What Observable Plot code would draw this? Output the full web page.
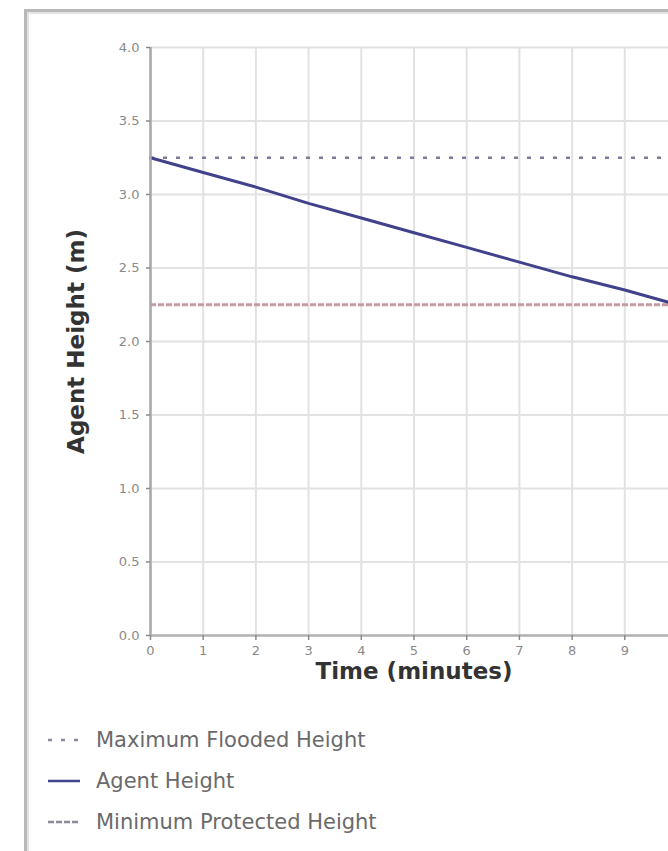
<!DOCTYPE html>
<html><head><meta charset="utf-8">
<script src="https://cdn.jsdelivr.net/npm/d3@7"></script>
<script src="https://cdn.jsdelivr.net/npm/@observablehq/plot@0.6"></script>
<style>
html,body{margin:0;padding:0;background:#fff;width:668px;height:851px;overflow:hidden;position:relative;font-family:"DejaVu Sans",sans-serif;}
#frame{position:absolute;left:24px;top:9px;width:700px;height:900px;border-left:3px solid #b9b9b9;border-top:3px solid #b9b9b9;}
#frame::after{content:"";position:absolute;left:0;top:0;right:0;bottom:0;border-left:2px solid #e4e4e4;border-top:2px solid #e4e4e4;}
#chart{position:absolute;left:0;top:0;width:720px;}
#chart svg{max-width:none !important;}
#legend{position:absolute;left:46px;top:719px;}
.row{display:flex;align-items:center;height:41px;}
.row span{font-family:"DejaVu Sans",sans-serif;font-size:21px;color:#6a6a6a;margin-left:14px;}
</style></head>
<body>
<div id="frame"></div>
<div id="chart"></div>
<div id="legend"></div>
<script>
// ---- data ----
const minutes = [0, 1, 2, 3, 4, 5, 6, 7, 8, 9, 10];
const agentHeight = [3.25, 3.15, 3.05, 2.94, 2.84, 2.74, 2.64, 2.54, 2.44, 2.35, 2.25];
const maxFloodedHeight = [3.25];
const minProtectedHeight = [2.25];
const xTicks = [0, 1, 2, 3, 4, 5, 6, 7, 8, 9, 10];
const yTicks = [0, 0.5, 1, 1.5, 2, 2.5, 3, 3.5, 4];
const seriesNames = ["Maximum Flooded Height", "Agent Height", "Minimum Protected Height"];
const xTitle = "Time (minutes)";
const yTitle = "Agent Height (m)";

// ---- styles ----
const seriesColors = ["#7c7c9c", "#41418c", "#c79aa3"];
const seriesDash = ["4,9", null, "6,2"];
const seriesWidth = [2.5, 3, 3];

const agentData = minutes.map((m, i) => ({minute: m, height: agentHeight[i]}));

const chart = Plot.plot({
  width: 692,
  height: 700,
  marginLeft: 150,
  marginRight: 15,
  marginTop: 47,
  marginBottom: 65,
  style: {fontFamily: "'DejaVu Sans', sans-serif", background: "transparent", overflow: "visible", maxWidth: "none"},
  x: {domain: [0, 10]},
  y: {domain: [0, 4]},
  marks: [
    Plot.gridX(xTicks, {stroke: "#e2e2e2", strokeOpacity: 1, strokeWidth: 2}),
    Plot.gridY(yTicks, {stroke: "#e2e2e2", strokeOpacity: 1, strokeWidth: 2}),
    Plot.ruleY(minProtectedHeight, {stroke: seriesColors[2], strokeWidth: seriesWidth[2], strokeDasharray: seriesDash[2]}),
    Plot.ruleY(maxFloodedHeight, {stroke: seriesColors[0], strokeWidth: seriesWidth[0], strokeDasharray: seriesDash[0]}),
    Plot.line(agentData, {x: "minute", y: "height", stroke: seriesColors[1], strokeWidth: seriesWidth[1]}),
    Plot.ruleX([0], {stroke: "#a9a9a9", strokeWidth: 2.5}),
    Plot.ruleY([0], {stroke: "#b3b3b3", strokeWidth: 2.5}),
    Plot.axisX(xTicks, {tickFormat: "d", tickSize: 5, tickPadding: 5, fontSize: 13, color: "#8a8a8a", strokeWidth: 1.5, label: null}),
    Plot.axisY(yTicks, {tickFormat: ".1f", tickSize: 4, tickPadding: 7, fontSize: 13, color: "#8a8a8a", strokeWidth: 1.5, label: null}),
    Plot.text([xTitle], {frameAnchor: "bottom", dy: 36, fontSize: 23, fontWeight: "bold", fill: "#333", textAnchor: "middle", lineAnchor: "middle"}),
    Plot.text([yTitle], {frameAnchor: "left", dx: -74, rotate: -90, fontSize: 23, fontWeight: "bold", fill: "#333", textAnchor: "middle", lineAnchor: "middle"})
  ]
});
document.getElementById("chart").appendChild(chart);

// ---- legend ----
const legend = d3.select("#legend");
seriesNames.forEach((name, i) => {
  const row = legend.append("div").attr("class", "row");
  const svg = row.append("svg").attr("width", 36).attr("height", 10);
  svg.append("line").attr("x1", 2).attr("x2", 34).attr("y1", 5).attr("y2", 5)
    .attr("stroke", i === 1 ? seriesColors[1] : "#8a8a9a")
    .attr("stroke-width", 2.5)
    .attr("stroke-dasharray", seriesDash[i]);
  row.append("span").text(name);
});
</script>
</body></html>
